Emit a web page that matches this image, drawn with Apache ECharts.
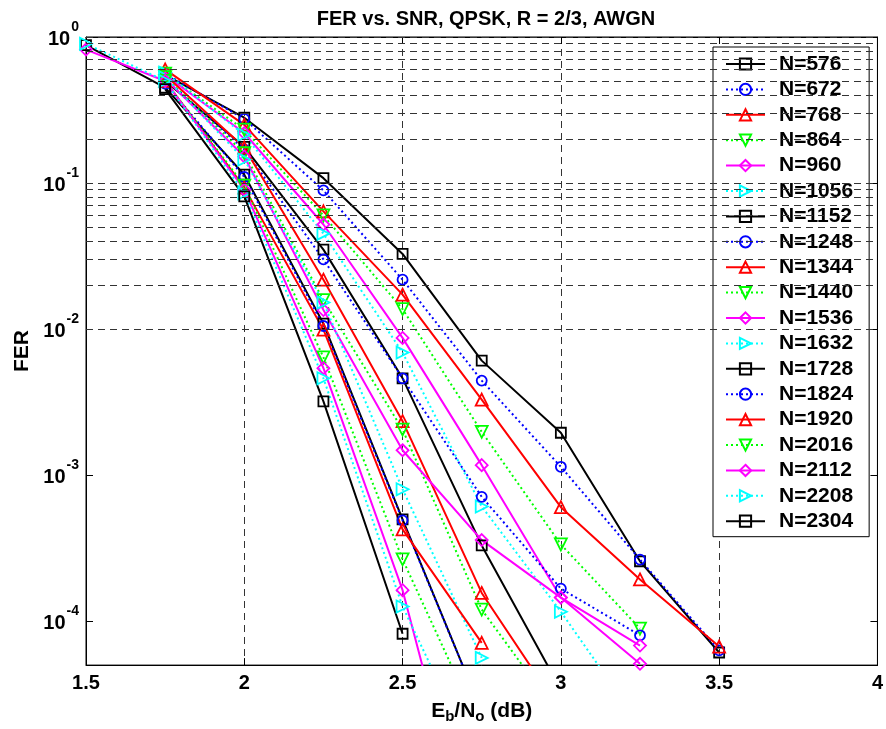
<!DOCTYPE html>
<html><head><meta charset="utf-8">
<script src="https://cdn.jsdelivr.net/npm/echarts@6/dist/echarts.min.js"></script>
<style>html,body{margin:0;padding:0;background:#fff}#c{width:886px;height:729px}</style>
</head><body><div id="c"></div>
<script>
// ---- data ----
const snr = [1.5, 1.75, 2.0, 2.25, 2.5, 2.75, 3.0, 3.25, 3.5];
const blockLengths = [576, 672, 768, 864, 960, 1056, 1152, 1248, 1344, 1440, 1536, 1632, 1728, 1824, 1920, 2016, 2112, 2208, 2304];
const fer576  = [null, 0.55, 0.28,  0.108,  0.0327,  0.00608, 0.00195, 2.57e-4, 6.1e-5];
const fer672  = [null, 0.56, 0.275, 0.089,  0.0218,  0.00444, 0.00114, 2.64e-4, 6.3e-5];
const fer768  = [null, 0.60, 0.25,  0.064,  0.0172,  0.00329, 6.03e-4, 1.93e-4, 6.7e-5];
const fer864  = [null, 0.56, 0.232, 0.060,  0.0137,  0.00198, 3.35e-4, 8.9e-5,  null];
const fer960  = [null, 0.55, 0.22,  0.052,  0.0087,  0.00117, 1.45e-4, 5.1e-5,  null];
const fer1056 = [null, 0.57, 0.214, 0.045,  0.0069,  6.1e-4,  1.16e-4, 1.95e-5, null];
const fer1152 = [null, 0.50, 0.177, 0.035,  0.0046,  3.3e-4,  3.4e-5,  null,    null];
const fer1248 = [null, 0.52, 0.17,  0.030,  0.0046,  7.1e-4,  1.67e-4, 8.0e-5,  null];
const fer1344 = [null, 0.55, 0.175, 0.0218, 0.00234, 1.56e-4, 2.4e-5,  null,    null];
const fer1440 = [null, 0.53, 0.16,  0.0158, 0.00205, 1.2e-4,  2.17e-5, null,    null];
const fer1536 = [null, 0.52, 0.152, 0.0135, 0.00148, 3.59e-4, 1.45e-4, 6.8e-5,  null];
const fer1632 = [null, 0.53, 0.145, 0.0152, 8.0e-4,  5.6e-5,  null,    null,    null];
const fer1728 = [0.88, 0.45, 0.114, 0.0109, 4.97e-4, 2.4e-5,  null,    null,    null];
const fer1824 = [null, 0.48, 0.11,  0.0105, 4.9e-4,  2.4e-5,  null,    null,    null];
const fer1920 = [null, 0.50, 0.093, 0.0099, 4.25e-4, 7.1e-5,  null,    null,    null];
const fer2016 = [null, 0.50, 0.096, 0.0064, 2.65e-4, 1.76e-5, null,    null,    null];
const fer2112 = [0.82, 0.50, 0.09,  0.0054, 1.63e-4, 1.4e-6,  null,    null,    null];
const fer2208 = [0.90, 0.50, 0.085, 0.0046, 1.26e-4, 9.1e-6,  null,    null,    null];
const fer2304 = [null, 0.44, 0.081, 0.0032, 8.2e-5,  null,    null,    null,    null];
const ferSeries = [fer576, fer672, fer768, fer864, fer960, fer1056, fer1152, fer1248, fer1344, fer1440,
                   fer1536, fer1632, fer1728, fer1824, fer1920, fer2016, fer2112, fer2208, fer2304];
const xTicks = [1.5, 2, 2.5, 3, 3.5, 4];
const yDecades = [1e-4, 1e-3, 1e-2, 1e-1, 1];

// ---- styles ----
const FONT = '"Liberation Sans", Arial, Helvetica, sans-serif';
const styleCycle = [
  {color: '#000000', symbol: 'rect', size: 10, dotted: false},
  {color: '#0000ff', symbol: 'circle', size: 10, dotted: true},
  {color: '#ff0000', symbol: 'triangle', size: 12, dotted: false},
  {color: '#00ff00', symbol: 'path://M0,0L2,0L1,1.7Z', size: 12, dotted: true},
  {color: '#ff00ff', symbol: 'diamond', size: 12, dotted: false},
  {color: '#00ffff', symbol: 'path://M0,0L1.7,1L0,2Z', size: 12, dotted: true}
];

// grid lines for the log axis (1..9 x 10^k)
const yGrid = [];
for (let e = -5; e <= 0; e++) {
  for (let m = 1; m <= 9; m++) {
    const v = m * Math.pow(10, e);
    if (v >= 5e-5 - 1e-12 && v <= 1 + 1e-12) yGrid.push(v);
  }
}
const gridLineStyle = {color: '#333', width: 1, type: [7, 5]};

const series = [];
series.push({
  name: '__grid', type: 'line', data: [], z: 1, silent: true,
  markLine: {
    silent: true, symbol: ['none', 'none'], label: {show: false},
    lineStyle: gridLineStyle, animation: false,
    data: yGrid.map(v => ({yAxis: v}))
  }
});
blockLengths.forEach((n, i) => {
  const st = styleCycle[i % styleCycle.length];
  series.push({
    name: 'N=' + n,
    type: 'line',
    z: 3,
    data: snr.map((x, k) => [x, ferSeries[i][k]]),
    connectNulls: false,
    symbol: st.symbol,
    symbolSize: st.size,
    showAllSymbol: true,
    clip: true,
    lineStyle: {color: st.color, width: 2, type: st.dotted ? [2, 3] : 'solid'},
    itemStyle: {color: 'rgba(0,0,0,0)', borderColor: st.color, borderWidth: 1.8},
    emphasis: {disabled: true},
    animation: false
  });
});

const chart = echarts.init(document.getElementById('c'), null, {renderer: 'canvas'});
chart.setOption({
  animation: false,
  backgroundColor: '#fff',
  title: {
    text: 'FER vs. SNR, QPSK, R = 2/3, AWGN',
    left: 481, top: 4, textAlign: 'center',
    textStyle: {fontFamily: FONT, fontWeight: 'bold', fontSize: 20, color: '#000'}
  },
  grid: {left: 86, right: 8, top: 37, bottom: 63, show: true, borderColor: '#000', borderWidth: 1, backgroundColor: 'transparent'},
  legend: {
    data: blockLengths.map(n => 'N=' + n),
    orient: 'vertical', left: 713, top: 47,
    padding: [6.5, 16, 5, 12],
    itemWidth: 39, itemHeight: 14, itemGap: 4.4,
    backgroundColor: '#fff', borderColor: '#000', borderWidth: 1,
    selectedMode: false,
    textStyle: {fontFamily: FONT, fontWeight: 'bold', fontSize: 21, color: '#000', lineHeight: 21, padding: [0, 0, 0, 9]}
  },
  xAxis: [{
    type: 'value', min: 1.5, max: 4, interval: 0.5, position: 'bottom',
    axisLine: {show: true, onZero: false, lineStyle: {color: '#000', width: 1}},
    axisTick: {show: true, inside: true, length: 7, lineStyle: {color: '#000'}},
    axisLabel: {
      margin: 8, fontFamily: FONT, fontWeight: 'bold', fontSize: 20, color: '#000',
      formatter: v => (xTicks.indexOf(v) >= 0 ? String(v) : '')
    },
    splitLine: {show: true, lineStyle: gridLineStyle},
    name: '{n|E}{sub|b}{n|/N}{sub|o}{n| (dB)}',
    nameLocation: 'middle', nameGap: 28,
    nameTextStyle: {
      rich: {
        n: {fontFamily: FONT, fontWeight: 'bold', fontSize: 21, color: '#000', lineHeight: 21},
        sub: {fontFamily: FONT, fontWeight: 'bold', fontSize: 15, color: '#000', lineHeight: 15, padding: [11, 0, 0, 0]}
      }
    }
  }, {
    type: 'value', min: 1.5, max: 4, interval: 0.5, position: 'top',
    axisLine: {show: true, onZero: false, lineStyle: {color: '#000'}},
    axisTick: {show: true, inside: true, length: 7, lineStyle: {color: '#000'}},
    axisLabel: {show: false}, splitLine: {show: false}
  }],
  yAxis: [{
    type: 'log', logBase: 10, min: 5e-5, max: 1, position: 'left',
    axisLine: {show: true, onZero: false, lineStyle: {color: '#000'}},
    axisTick: {show: true, inside: true, length: 7, lineStyle: {color: '#000'}},
    splitLine: {show: false},
    axisLabel: {
      margin: 7,
      formatter: function (v) {
        const e = Math.log10(v), r = Math.round(e);
        if (Math.abs(e - r) > 1e-6) return '';
        return '{b|10}{s|' + r + '}';
      },
      rich: {
        b: {fontFamily: FONT, fontWeight: 'bold', fontSize: 20, color: '#000', lineHeight: 20, padding: [4, 0, 0, 0]},
        s: {fontFamily: FONT, fontWeight: 'bold', fontSize: 14, color: '#000', lineHeight: 14, padding: [0, 0, 20, 1]}
      }
    },
    name: 'FER', nameLocation: 'middle', nameGap: 53, nameRotate: 90,
    nameTextStyle: {fontFamily: FONT, fontWeight: 'bold', fontSize: 21, color: '#000'}
  }, {
    type: 'log', logBase: 10, min: 5e-5, max: 1, position: 'right',
    axisLine: {show: true, onZero: false, lineStyle: {color: '#000'}},
    axisTick: {show: true, inside: true, length: 7, lineStyle: {color: '#000'}},
    axisLabel: {show: false}, splitLine: {show: false}
  }],
  series: series
});
</script></body></html>
